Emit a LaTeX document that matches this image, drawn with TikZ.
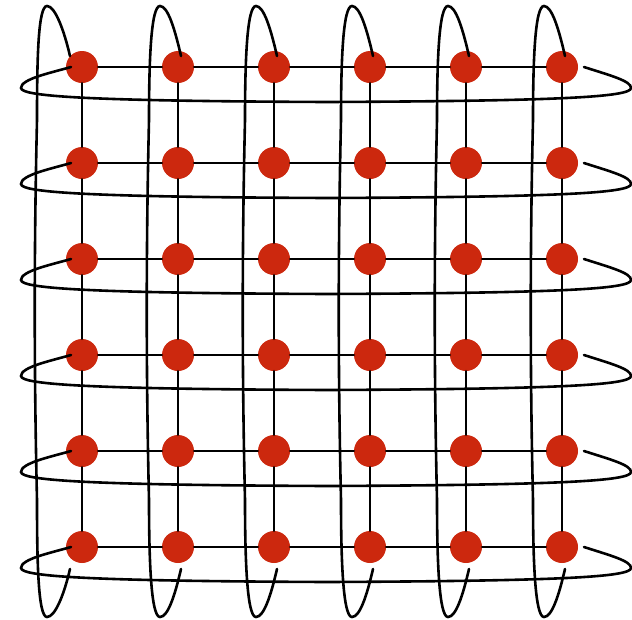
\documentclass[tikz,border=0pt]{standalone}
\usetikzlibrary{calc}
\definecolor{dotred}{RGB}{204,40,14}
\begin{document}
\begin{tikzpicture}[x=1pt,y=-1pt,
  wire/.style={line width=2.6pt, black, line cap=round},
  dot/.style={circle, fill=dotred, draw=none, minimum size=32pt, inner sep=0pt}]
\useasboundingbox (0,0) rectangle (632,619);
% nodes
\foreach \i in {1,...,6}{
  \foreach \j in {1,...,6}{
    \node[dot] (n-\i-\j) at ({82+96*(\i-1)},{67+96*(\j-1)}) {};
  }
}
% grid connectors
\foreach \i in {1,...,5}{
  \foreach \j in {1,...,6}{
    \pgfmathtruncatemacro{\k}{\i+1}
    \draw[wire] (n-\i-\j) -- (n-\k-\j);
    \draw[wire] (n-\j-\i) -- (n-\j-\k);
  }
}
% horizontal wrap-around connectors
\foreach \j in {1,...,6}{
  \pgfmathsetmacro{\Y}{67+96*(\j-1)}
  \draw[wire] ($(n-6-\j.center)+(22,0)$)
    .. controls (612,\Y+9) and (631,\Y+14) .. (631,\Y+21)
    .. controls (631,\Y+30) and (560,\Y+34) .. (327,\Y+35)
    .. controls (100,\Y+34) and (21,\Y+30) .. (21,\Y+21)
    .. controls (21,\Y+12) and (50,\Y+6) .. ($(n-1-\j.center)+(-11,0)$);
}
% vertical wrap-around connectors
\foreach \i/\L/\T/\E in {1/45/35/-12, 2/29/18/3, 3/29/18/3, 4/29/18/3, 5/29/18/3, 6/29/18/3}{
  \pgfmathsetmacro{\X}{82+96*(\i-1)}
  \draw[wire] ($(n-\i-1.center)+(\E,-11)$)
    .. controls (\X+\E-6,30) and (\X-\T+8,6) .. (\X-\T,6)
    .. controls (\X-\T-9,6) and (\X-\L,60) .. (\X-\L,120)
    .. controls (\X-\L-3,250) and (\X-\L-3,370) .. (\X-\L,500)
    .. controls (\X-\L,560) and (\X-\T-9,617) .. (\X-\T,617)
    .. controls (\X-\T+8,617) and (\X+\E-6,595) .. ($(n-\i-6.center)+(\E,22)$);
}
\end{tikzpicture}
\end{document}
